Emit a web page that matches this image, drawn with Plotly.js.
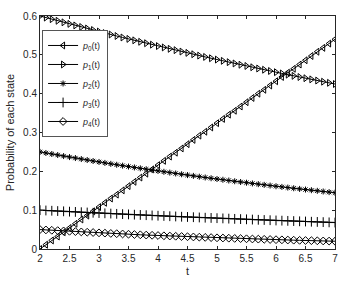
<!DOCTYPE html>
<html><head><meta charset="utf-8">
<script src="https://cdn.plot.ly/plotly-3.0.1.min.js"></script>
<style>html,body{margin:0;padding:0;background:#fff}#plot{width:350px;height:284px}</style>
</head><body><div id="plot"></div>
<script>
const t = [2.0,2.1,2.2,2.3,2.4,2.5,2.6,2.7,2.8,2.9,3.0,3.1,3.2,3.3,3.4,3.5,3.6,3.7,3.8,3.9,4.0,4.1,4.2,4.3,4.4,4.5,4.6,4.7,4.8,4.9,5.0,5.1,5.2,5.3,5.4,5.5,5.6,5.7,5.8,5.9,6.0,6.1,6.2,6.3,6.4,6.5,6.6,6.7,6.8,6.9,7.0];
const p0 = [0,0.011,0.022,0.032,0.043,0.054,0.065,0.076,0.086,0.097,0.108,0.119,0.130,0.140,0.151,0.162,0.173,0.184,0.194,0.205,0.216,0.227,0.238,0.248,0.259,0.270,0.281,0.292,0.302,0.313,0.324,0.335,0.346,0.356,0.367,0.378,0.389,0.400,0.410,0.421,0.432,0.443,0.454,0.464,0.475,0.486,0.497,0.508,0.518,0.529,0.540];
const p1 = [0.600,0.5959,0.5918,0.5877,0.5837,0.5797,0.5757,0.5717,0.5678,0.5639,0.5600,0.5561,0.5523,0.5485,0.5447,0.5410,0.5373,0.5336,0.5299,0.5262,0.5226,0.5191,0.5155,0.5120,0.5084,0.5050,0.5015,0.4980,0.4946,0.4912,0.4878,0.4845,0.4811,0.4778,0.4745,0.4713,0.4680,0.4648,0.4616,0.4584,0.4553,0.4521,0.4490,0.4459,0.4429,0.4398,0.4368,0.4338,0.4308,0.4279,0.4249];
const p2 = [0.2500,0.2473,0.2446,0.2420,0.2393,0.2367,0.2342,0.2316,0.2291,0.2266,0.2242,0.2217,0.2193,0.2169,0.2146,0.2123,0.2100,0.2077,0.2054,0.2032,0.2010,0.1988,0.1967,0.1945,0.1924,0.1903,0.1883,0.1862,0.1842,0.1822,0.1802,0.1783,0.1764,0.1744,0.1725,0.1707,0.1688,0.1670,0.1652,0.1634,0.1616,0.1599,0.1582,0.1564,0.1547,0.1531,0.1514,0.1498,0.1481,0.1465,0.1450];
const p3 = [0.1000,0.0992,0.0985,0.0977,0.0970,0.0962,0.0955,0.0947,0.0940,0.0933,0.0926,0.0919,0.0912,0.0905,0.0898,0.0891,0.0884,0.0877,0.0871,0.0864,0.0857,0.0851,0.0844,0.0838,0.0831,0.0825,0.0819,0.0812,0.0806,0.0800,0.0794,0.0788,0.0782,0.0776,0.0770,0.0764,0.0758,0.0752,0.0747,0.0741,0.0735,0.0730,0.0724,0.0719,0.0713,0.0708,0.0702,0.0697,0.0692,0.0686,0.0681];
const p4 = [0.0500,0.0491,0.0482,0.0473,0.0465,0.0456,0.0448,0.0440,0.0432,0.0424,0.0416,0.0409,0.0401,0.0394,0.0387,0.0380,0.0373,0.0366,0.0359,0.0353,0.0347,0.0340,0.0334,0.0328,0.0322,0.0316,0.0310,0.0305,0.0299,0.0294,0.0288,0.0283,0.0278,0.0273,0.0268,0.0263,0.0258,0.0254,0.0249,0.0245,0.0240,0.0236,0.0231,0.0227,0.0223,0.0219,0.0215,0.0211,0.0207,0.0204,0.0200];
const names = ['<i>p</i><sub>0</sub>(t)','<i>p</i><sub>1</sub>(t)','<i>p</i><sub>2</sub>(t)','<i>p</i><sub>3</sub>(t)','<i>p</i><sub>4</sub>(t)'];
const xTicks = [2,2.5,3,3.5,4,4.5,5,5.5,6,6.5,7];
const yTicks = [0,0.1,0.2,0.3,0.4,0.5,0.6];

const series = [p0,p1,p2,p3,p4];
const symbols = ['triangle-left-open','triangle-right-open','asterisk-open','cross-thin-open','diamond-open'];
const sizes = [6,6,5,7,6];
const traces = series.map((s,i)=>({
  x:t, y:s, name:names[i], type:'scatter', mode:'lines+markers',
  line:{color:'#000',width:1},
  marker:{symbol:symbols[i],size:sizes[i],color:'#000',line:{color:'#000',width:1}}
}));
const ax = {showline:true, mirror:'ticks', linecolor:'#262626', linewidth:1, ticks:'inside', ticklen:3,
  tickcolor:'#262626', showgrid:false, zeroline:false, tickfont:{family:'Liberation Sans, Arial',size:10,color:'#262626'}};
const layout = {
  width:350, height:284, margin:{l:40,r:15,t:16,b:35},
  paper_bgcolor:'#fff', plot_bgcolor:'#fff', showlegend:true,
  font:{family:'Liberation Sans, Arial', color:'#262626'},
  xaxis:Object.assign({}, ax, {range:[2,7], tickvals:xTicks, ticktext:xTicks.map(String),
    title:{text:'t', font:{size:11,color:'#262626'}, standoff:4}}),
  yaxis:Object.assign({}, ax, {range:[0,0.6], tickvals:yTicks, ticktext:yTicks.map(String),
    title:{text:'Probability of each state', font:{size:11,color:'#262626'}, standoff:6}}),
  legend:{x:0.007, y:0.94, xanchor:'left', yanchor:'top', bgcolor:'#fff', bordercolor:'#555', borderwidth:1,
    font:{size:9,color:'#262626'}, tracegroupgap:0, itemwidth:30}
};
Plotly.newPlot('plot', traces, layout, {displayModeBar:false, staticPlot:true});
</script></body></html>
